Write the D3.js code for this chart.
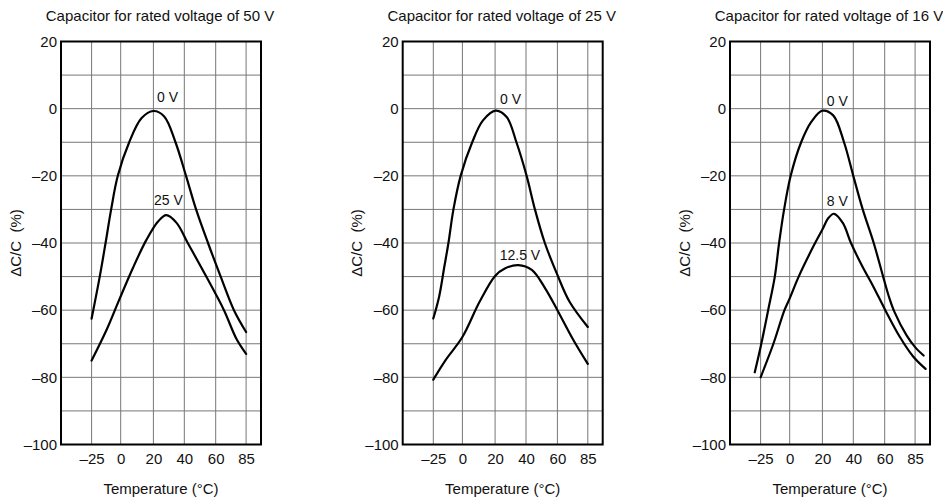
<!DOCTYPE html>
<html>
<head>
<meta charset="utf-8">
<script src="https://cdn.jsdelivr.net/npm/d3@7/dist/d3.min.js"></script>
<style>
  html, body { margin: 0; padding: 0; background: #fff; }
  svg { display: block; }
  text { font-family: "Liberation Sans", Arial, sans-serif; fill: #111; }
</style>
</head>
<body>
<svg id="chart" width="943" height="503"></svg>
<script>
// ---------- data ----------
const panelTitles = [
  "Capacitor for rated voltage of 50 V",
  "Capacitor for rated voltage of 25 V",
  "Capacitor for rated voltage of 16 V"
];
const xTicks = [-25, 0, 20, 40, 60, 85];
const yTicks = [20, 0, -20, -40, -60, -80, -100];
const xLabel = "Temperature (\u00B0C)";
const yLabel = "\u0394C/C  (%)";

// 50 V capacitor
const cap50_0V_T  = [-25, -18, -13, -8.2, -2.5, 5.2, 12.8, 20, 27, 34.3, 41.1, 47.5, 55.1, 64.1, 75, 85];
const cap50_0V_V  = [-62.5, -50, -40, -30, -20, -10, -2.8, -0.7, -2.3, -10, -20, -30, -40, -50, -60, -66.5];
const cap50_25V_T = [-25, -12.3, -1.4, 7.4, 15.8, 23, 28.3, 35, 42.2, 54, 66.8, 77, 85];
const cap50_25V_V = [-75, -66, -57, -47.5, -39, -33.6, -31.7, -34, -40, -50, -60, -68.5, -73];

// 25 V capacitor
const cap25_0V_T   = [-25, -20, -15.5, -12, -7.7, -1.5, 6, 12.6, 20.4, 27.5, 33.8, 40.4, 45.7, 52, 60, 70, 85];
const cap25_0V_V   = [-62.5, -56, -47, -40, -30, -20, -10, -3.5, -0.6, -2.5, -10, -20, -30, -40, -49.5, -57.5, -65];
const cap25_125V_T = [-25, -14.3, 0, 10.5, 20, 26.3, 35, 43.7, 52.2, 60, 73, 85];
const cap25_125V_V = [-80.7, -74.8, -68, -57.5, -49.8, -47.6, -46.6, -48, -53.5, -60, -68.8, -76];

// 16 V capacitor
const cap16_0V_T = [-30, -25, -18.5, -12.8, -9.1, -4.8, 0.6, 7, 13.4, 20, 27, 34, 40, 46, 53, 59, 63.5, 68, 78, 85, 92];
const cap16_0V_V = [-78.5, -71, -60, -50, -40, -30, -20, -10, -3.8, -0.6, -2, -10, -20, -30, -40, -50, -56, -60.5, -67.5, -71, -73.5];
const cap16_8V_T = [-25, -14, -4.5, 0, 5.5, 14.5, 20, 24, 27.6, 33.3, 38.5, 45.8, 52.8, 60.5, 72.5, 83.4, 93.6];
const cap16_8V_V = [-80, -70, -60, -56.5, -50, -41, -36, -32.5, -31.3, -34.1, -40, -47, -53, -60, -68, -73.8, -77.5];

const zip = (t, v) => t.map((d, i) => ({ t: d, v: v[i] }));

const panels = [
  { title: panelTitles[0],
    series: [zip(cap50_0V_T, cap50_0V_V), zip(cap50_25V_T, cap50_25V_V)],
    labels: [{ text: "0 V", t: 22.3, v: 2.1 }, { text: "25 V", t: 20.4, v: -28.7 }] },
  { title: panelTitles[1],
    series: [zip(cap25_0V_T, cap25_0V_V), zip(cap25_125V_T, cap25_125V_V)],
    labels: [{ text: "0 V", t: 23.2, v: 1.4 }, { text: "12.5 V", t: 23, v: -45.1 }] },
  { title: panelTitles[2],
    series: [zip(cap16_0V_T, cap16_0V_V), zip(cap16_8V_T, cap16_8V_V)],
    labels: [{ text: "0 V", t: 22.8, v: 0.9 }, { text: "8 V", t: 22.8, v: -28.9 }] }
];

// ---------- layout ----------
const svg = d3.select("#chart");
const plotLefts = [61, 402.7, 730];
const plotTop = 41.5, plotW = 200, plotH = 403;
// fractional positions of the (non-uniform) temperature grid across the plot
const xStops = [0.153, 0.2985, 0.462, 0.6165, 0.7735, 0.9255];
const fmt = d => (d < 0 ? "\u2013" + Math.abs(d) : String(d));

panels.forEach((p, i) => {
  const left = plotLefts[i];
  const x = d3.scaleLinear().domain(xTicks).range(xStops.map(f => left + f * plotW));
  const y = d3.scaleLinear().domain([-100, 20]).range([plotTop + plotH, plotTop]);
  const g = svg.append("g");

  // grid
  g.selectAll(".hg").data(d3.range(-90, 20, 10)).join("line")
    .attr("x1", left).attr("x2", left + plotW)
    .attr("y1", d => y(d)).attr("y2", d => y(d))
    .attr("stroke", "#777").attr("stroke-width", 1);
  g.selectAll(".vg").data(xTicks).join("line")
    .attr("x1", d => x(d)).attr("x2", d => x(d))
    .attr("y1", plotTop).attr("y2", plotTop + plotH)
    .attr("stroke", "#777").attr("stroke-width", 1);

  // frame
  g.append("rect").attr("x", left).attr("y", plotTop)
    .attr("width", plotW).attr("height", plotH)
    .attr("fill", "none").attr("stroke", "#000").attr("stroke-width", 2);

  // axes
  const ya = g.append("g").attr("transform", `translate(${left},0)`)
    .call(d3.axisLeft(y).tickValues(yTicks).tickSize(0).tickPadding(4).tickFormat(fmt));
  ya.select(".domain").remove();
  ya.selectAll("text").attr("font-size", 15).attr("fill", "#111")
    .attr("font-family", "Liberation Sans, Arial, sans-serif");

  const xa = g.append("g").attr("transform", `translate(0,${plotTop + plotH})`)
    .call(d3.axisBottom(x).tickValues(xTicks).tickSize(0).tickPadding(9).tickFormat(fmt));
  xa.select(".domain").remove();
  xa.selectAll("text").attr("font-size", 15).attr("fill", "#111")
    .attr("font-family", "Liberation Sans, Arial, sans-serif");

  // titles
  g.append("text").attr("x", left + plotW / 2 - 1).attr("y", 20.5)
    .attr("text-anchor", "middle").attr("font-size", 15).text(p.title);
  g.append("text").attr("x", left + plotW / 2).attr("y", 493.5)
    .attr("text-anchor", "middle").attr("font-size", 15).text(xLabel);
  g.append("text")
    .attr("transform", `translate(${left - 46},${plotTop + plotH / 2}) rotate(-90)`)
    .attr("text-anchor", "middle").attr("dominant-baseline", "central")
    .attr("font-size", 15).style("white-space", "pre").text(yLabel);

  // curves
  const line = d3.line().x(d => x(d.t)).y(d => y(d.v)).curve(d3.curveCatmullRom.alpha(0.5));
  g.selectAll(".curve").data(p.series).join("path")
    .attr("d", line).attr("fill", "none")
    .attr("stroke", "#000").attr("stroke-width", 2.2)
    .attr("stroke-linejoin", "round").attr("stroke-linecap", "round");

  // curve labels
  g.selectAll(".lbl").data(p.labels).join("text")
    .attr("x", d => x(d.t)).attr("y", d => y(d.v))
    .attr("font-size", 14).text(d => d.text);
});
</script>
</body>
</html>
